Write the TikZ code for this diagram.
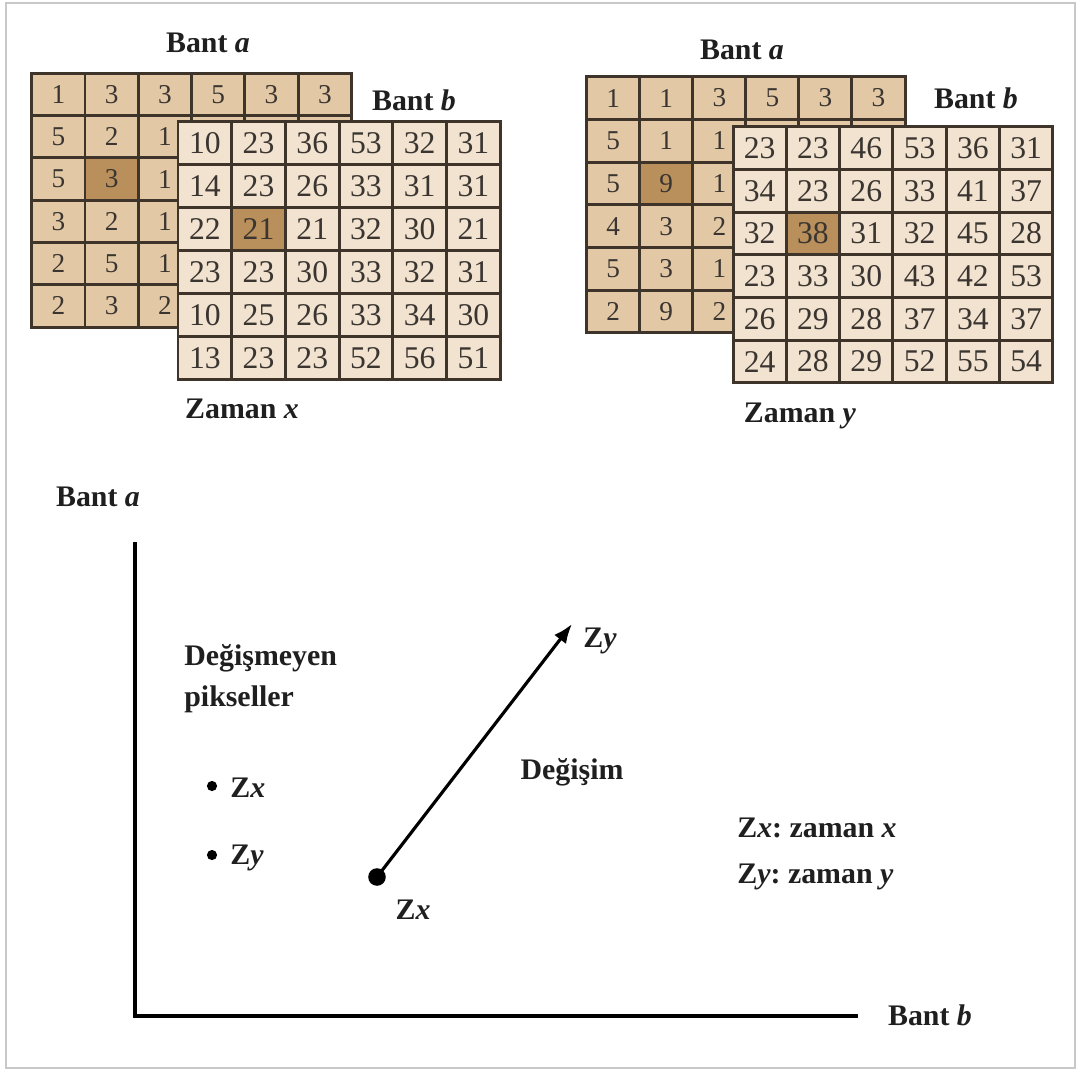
\documentclass[tikz,border=0pt]{standalone}
\usepackage{fontspec}
\setmainfont{Liberation Serif}
\usetikzlibrary{arrows.meta}
\definecolor{cellA}{HTML}{E3C8A6}
\definecolor{cellB}{HTML}{F2E3D0}
\definecolor{cellH}{HTML}{B98F5B}
\definecolor{gline}{HTML}{3E3429}
\definecolor{numc}{HTML}{3A3530}
\definecolor{framec}{HTML}{C8C8C8}
\frenchspacing
\newcommand\cellgrid[5]{%
  \fill[#5] (#1,#2) rectangle ({#1+6*#3},{#2+6*#4});
  \fill[cellH] ({#1+#3},{#2+2*#4}) rectangle ({#1+2*#3},{#2+3*#4});
  \foreach \ii in {0,...,6} {
    \draw[gridln] ({#1+\ii*#3},#2) -- ({#1+\ii*#3},{#2+6*#4});
    \draw[gridln] (#1,{#2+\ii*#4}) -- ({#1+6*#3},{#2+\ii*#4});
  }%
}
\newcommand\cellnums[7]{%
  \foreach \row [count=\rr] in {#7} {
    \foreach \vv [count=\cc] in \row {
      \node[#5] (#6-\rr-\cc) at ({#1+(\cc-0.5)*#3},{#2+(\rr-0.5)*#4}) {\vv};
    }
  }%
}
\begin{document}
\begin{tikzpicture}[x=0.02cm,y=-0.02cm,
  lbl/.style={font=\fontsize{17}{23.5}\selectfont\bfseries, text=black!88, inner sep=0pt},
  legtxt/.style={font=\fontsize{17}{26.5}\selectfont\bfseries, text=black!88, inner sep=0pt},
  numA/.style={font=\fontsize{15.5}{18}\selectfont, text=numc, inner sep=0pt},
  numB/.style={font=\fontsize{18}{20}\selectfont, text=numc, inner sep=0pt},
  gridln/.style={draw=gline, line width=1.7pt, line cap=rect},
  dot/.style={circle, fill=black, inner sep=0pt, minimum size=5.8pt},
  bigdot/.style={circle, fill=black, inner sep=0pt, minimum size=10pt},
]
\useasboundingbox (0,0) rectangle (1081,1072);
\draw[framec, line width=1.2pt] (6,3) rectangle (1075,1068);

% ---- left: Zaman x
\cellgrid{31.7}{73.3}{53.3}{42.3}{cellA}
\cellnums{31.7}{73.3}{53.3}{42.3}{numA}{xa}{{1,3,3,5,3,3},{5,2,1},{5,3,1},{3,2,1},{2,5,1},{2,3,2}}
\cellgrid{178}{121.7}{53.7}{43}{cellB}
\cellnums{178}{121.7}{53.7}{43}{numB}{xb}{{10,23,36,53,32,31},{14,23,26,33,31,31},{22,21,21,32,30,21},{23,23,30,33,32,31},{10,25,26,33,34,30},{13,23,23,52,56,51}}
\node[lbl] (la1) at (208,43) {Bant \textit{a}};
\node[lbl] (lb1) at (414,100) {Bant \textit{b}};
\node[lbl] (zmx) at (242,409) {Zaman \textit{x}};

% ---- right: Zaman y
\cellgrid{586.7}{76.7}{53.05}{42.7}{cellA}
\cellnums{586.7}{76.7}{53.05}{42.7}{numA}{ya}{{1,1,3,5,3,3},{5,1,1},{5,9,1},{4,3,2},{5,3,1},{2,9,2}}
\cellgrid{733}{126.7}{53.3}{42.7}{cellB}
\cellnums{733}{126.7}{53.3}{42.7}{numB}{yb}{{23,23,46,53,36,31},{34,23,26,33,41,37},{32,38,31,32,45,28},{23,33,30,43,42,53},{26,29,28,37,34,37},{24,28,29,52,55,54}}
\node[lbl] (la2) at (742,50) {Bant \textit{a}};
\node[lbl] (lb2) at (976,98) {Bant \textit{b}};
\node[lbl] (zmy) at (800,416) {Zaman \textit{y}};

% ---- bottom chart
\node[lbl] (axa) at (98,497) {Bant \textit{a}};
\coordinate (ytop) at (135,542);
\coordinate (orig) at (135,1016);
\coordinate (xend) at (858,1016);
\draw[line width=2.8pt] (ytop) -- (orig) -- (xend);
\node[lbl] (axb) at (930,1015) {Bant \textit{b}};

\node[lbl, anchor=west, align=left] (unch) at (184,679) {Değişmeyen\\pikseller};
\node[dot] (d1) at (212,786) {};
\node[lbl, anchor=west] (zx1) at (230,788) {Z\textit{x}};
\node[dot] (d2) at (212,855) {};
\node[lbl, anchor=west] (zy1) at (230,858) {Z\textit{y}};

\node[bigdot] (p0) at (377,877) {};
\coordinate (p1) at (572,624);
\draw[line width=1.8pt, -{Latex[length=11pt,width=8.5pt]}] (p0.center) -- (p1);
\node[lbl] (zxl) at (413,910) {Z\textit{x}};
\node[lbl] (zyl) at (600,641) {Z\textit{y}};
\node[lbl] (chg) at (572,772) {Değişim};
\node[legtxt, anchor=west, align=left] (leg) at (737,854) {Z\textit{x}: zaman \textit{x}\\Z\textit{y}: zaman \textit{y}};
\end{tikzpicture}
\end{document}
